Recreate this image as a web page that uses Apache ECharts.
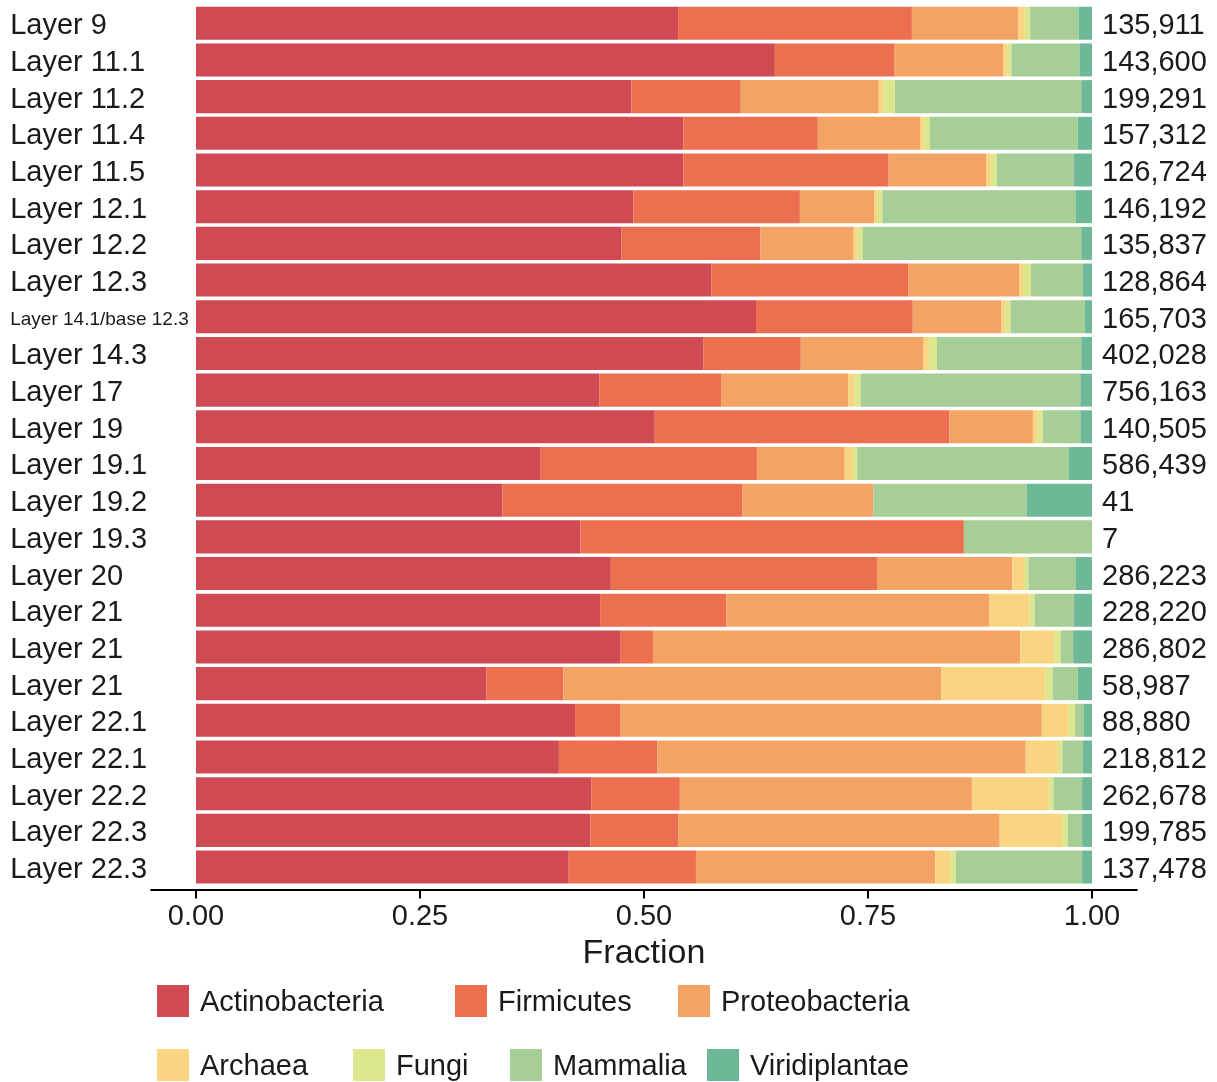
<!DOCTYPE html>
<html>
<head>
<meta charset="utf-8">
<script src="https://cdn.jsdelivr.net/npm/echarts@6/dist/echarts.min.js"></script>
<style>
  html, body { margin: 0; padding: 0; background: #ffffff; }
  #chart { width: 1217px; height: 1082px; }
</style>
</head>
<body>
<div id="chart"></div>
<script>
const categories = ['Layer 9', 'Layer 11.1', 'Layer 11.2', 'Layer 11.4', 'Layer 11.5', 'Layer 12.1', 'Layer 12.2', 'Layer 12.3', 'Layer 14.1/base 12.3', 'Layer 14.3', 'Layer 17', 'Layer 19', 'Layer 19.1', 'Layer 19.2', 'Layer 19.3', 'Layer 20', 'Layer 21', 'Layer 21', 'Layer 21', 'Layer 22.1', 'Layer 22.1', 'Layer 22.2', 'Layer 22.3', 'Layer 22.3'];
const totals = ['135,911', '143,600', '199,291', '157,312', '126,724', '146,192', '135,837', '128,864', '165,703', '402,028', '756,163', '140,505', '586,439', '41', '7', '286,223', '228,220', '286,802', '58,987', '88,880', '218,812', '262,678', '199,785', '137,478'];

const actinobacteria = [0.538, 0.646, 0.486, 0.544, 0.544, 0.488, 0.475, 0.575, 0.625, 0.566, 0.450, 0.512, 0.384, 0.342, 0.429, 0.463, 0.451, 0.474, 0.324, 0.423, 0.405, 0.441, 0.440, 0.416];
const firmicutes     = [0.261, 0.133, 0.122, 0.150, 0.229, 0.186, 0.155, 0.220, 0.175, 0.109, 0.136, 0.329, 0.242, 0.268, 0.428, 0.297, 0.141, 0.036, 0.086, 0.051, 0.110, 0.099, 0.098, 0.142];
const proteobacteria = [0.119, 0.122, 0.154, 0.114, 0.109, 0.083, 0.104, 0.124, 0.099, 0.137, 0.142, 0.093, 0.098, 0.146, 0.000, 0.151, 0.293, 0.410, 0.422, 0.470, 0.411, 0.326, 0.359, 0.267];
const archaea        = [0.007, 0.004, 0.005, 0.004, 0.005, 0.003, 0.004, 0.004, 0.004, 0.006, 0.007, 0.005, 0.008, 0.000, 0.000, 0.013, 0.045, 0.038, 0.116, 0.030, 0.036, 0.085, 0.070, 0.017];
const fungi          = [0.006, 0.005, 0.013, 0.007, 0.007, 0.006, 0.006, 0.009, 0.006, 0.009, 0.007, 0.006, 0.006, 0.000, 0.000, 0.005, 0.006, 0.007, 0.008, 0.007, 0.005, 0.006, 0.006, 0.006];
const mammalia       = [0.054, 0.076, 0.208, 0.165, 0.086, 0.216, 0.244, 0.058, 0.083, 0.161, 0.245, 0.042, 0.236, 0.171, 0.143, 0.053, 0.044, 0.014, 0.028, 0.010, 0.023, 0.032, 0.016, 0.141];
const viridiplantae  = [0.015, 0.014, 0.012, 0.016, 0.020, 0.018, 0.012, 0.010, 0.008, 0.012, 0.013, 0.013, 0.026, 0.073, 0.000, 0.018, 0.020, 0.021, 0.016, 0.009, 0.010, 0.011, 0.011, 0.011];

const xTicks = [0, 0.25, 0.5, 0.75, 1];
const seriesNames = ['Actinobacteria', 'Firmicutes', 'Proteobacteria', 'Archaea', 'Fungi', 'Mammalia', 'Viridiplantae'];
const seriesValues = [actinobacteria, firmicutes, proteobacteria, archaea, fungi, mammalia, viridiplantae];
const colors = ['#CF4A53', '#EC7050', '#F3A364', '#F9D581', '#DEE58F', '#A6CE96', '#6DB997'];

const legendPos = [
  { left: 157, top: 985 }, { left: 455, top: 985 }, { left: 678, top: 985 },
  { left: 157, top: 1049 }, { left: 353, top: 1049 }, { left: 510, top: 1049 }, { left: 707, top: 1049 }
];

const FONT = 'Liberation Sans, Arial, Helvetica, sans-serif';
const chart = echarts.init(document.getElementById('chart'));

const option = {
  animation: false,
  backgroundColor: '#ffffff',
  color: colors,
  textStyle: { fontFamily: FONT },
  grid: {
    left: 151.2, width: 985.6, top: 4.9, height: 880.5,
    containLabel: false, outerBoundsMode: 'none'
  },
  xAxis: {
    type: 'value', min: -0.05, max: 1.05, offset: 4,
    splitLine: { show: false },
    axisLine: { show: true, lineStyle: { color: '#000', width: 2.2 } },
    axisTick: { show: true, length: 9, lineStyle: { color: '#000', width: 2 }, customValues: xTicks },
    axisLabel: {
      customValues: xTicks, margin: 13, fontSize: 29, color: '#1a1a1a', fontFamily: FONT,
      formatter: v => v.toFixed(2)
    },
    name: 'Fraction', nameLocation: 'middle', nameGap: 47,
    nameTextStyle: { fontSize: 34, color: '#1a1a1a', fontFamily: FONT }
  },
  yAxis: [
    {
      type: 'category', data: categories, inverse: true, position: 'left',
      axisLine: { show: false }, axisTick: { show: false }, splitLine: { show: false },
      axisLabel: {
        align: 'left', margin: 141, fontSize: 29, color: '#1a1a1a', fontFamily: FONT, interval: 0,
        padding: [6, 0, 0, 0],
        formatter: v => (v.indexOf('/base') >= 0 ? '{s|' + v + '}' : v),
        rich: { s: { fontSize: 19, color: '#1a1a1a', fontFamily: FONT } }
      }
    },
    {
      type: 'category', data: totals, inverse: true, position: 'right', offset: -44.8,
      axisLine: { show: false }, axisTick: { show: false }, splitLine: { show: false },
      axisLabel: {
        align: 'left', margin: 10, fontSize: 29, color: '#1a1a1a', fontFamily: FONT, interval: 0,
        formatter: v => '{t|' + v + '}',
        rich: { t: { fontSize: 29, color: '#1a1a1a', fontFamily: FONT, padding: [6, 0, 0, 0] } }
      }
    }
  ],
  legend: legendPos.map((p, i) => ({
    data: [seriesNames[i]], left: p.left, top: p.top, padding: 0,
    orient: 'horizontal', icon: 'rect', itemWidth: 32, itemHeight: 32,
    selectedMode: false,
    formatter: n => '{t|' + n + '}',
    textStyle: {
      fontSize: 29, color: '#1a1a1a', fontFamily: FONT,
      rich: { t: { fontSize: 29, color: '#1a1a1a', fontFamily: FONT, padding: [4, 0, 0, 6] } }
    }
  })),
  series: seriesNames.map((name, i) => ({
    name: name, type: 'bar', stack: 'total', yAxisIndex: 0,
    barWidth: '90%',
    itemStyle: { color: colors[i] },
    emphasis: { disabled: true },
    data: seriesValues[i]
  }))
};

chart.setOption(option);
</script>
</body>
</html>
